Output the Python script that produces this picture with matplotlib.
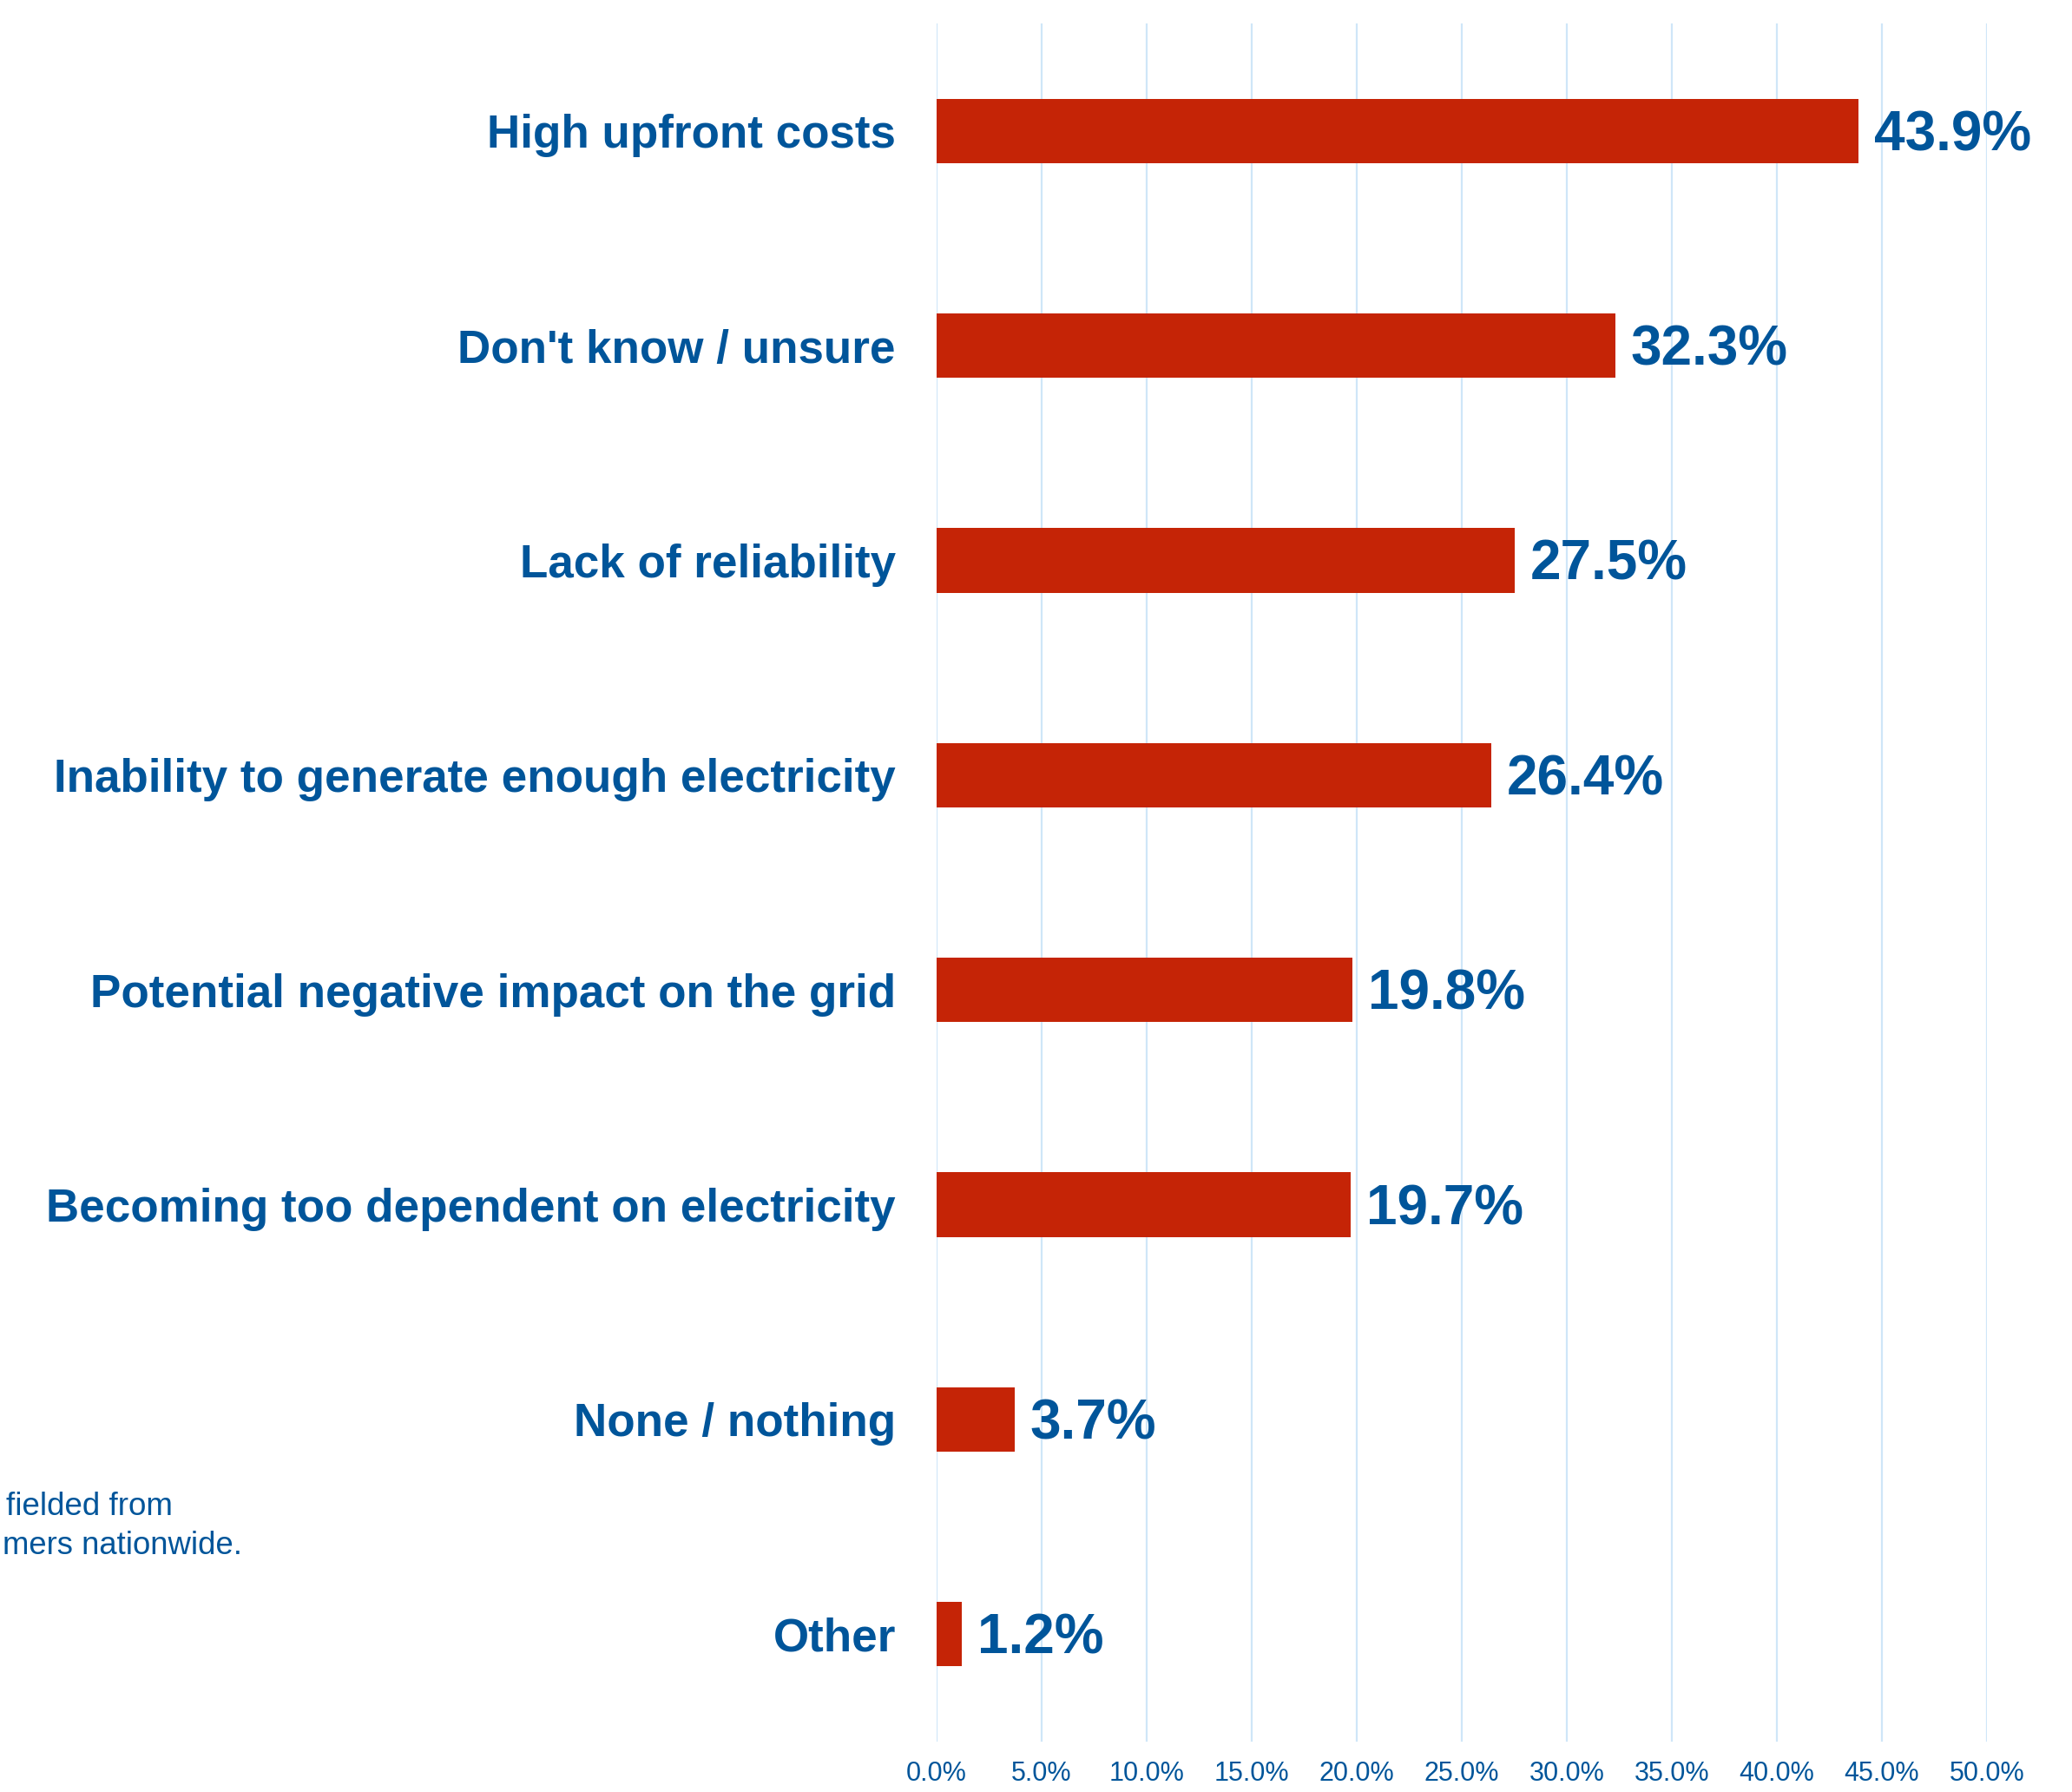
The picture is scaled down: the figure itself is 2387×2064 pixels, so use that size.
import matplotlib
matplotlib.use("Agg")
import matplotlib.pyplot as plt
from matplotlib.ticker import FuncFormatter

plt.rcParams['font.family'] = ['Liberation Sans', 'DejaVu Sans']

categories = [
    "High upfront costs",
    "Don't know / unsure",
    "Lack of reliability",
    "Inability to generate enough electricity",
    "Potential negative impact on the grid",
    "Becoming too dependent on electricity",
    "None / nothing",
    "Other",
]
values = [43.9, 32.3, 27.5, 26.4, 19.8, 19.7, 3.7, 1.2]
tick_values = [0, 5, 10, 15, 20, 25, 30, 35, 40, 45, 50]
# Footnote as visible in the reference (its start is cropped off the image)
footnote_line1 = "fielded from"
footnote_line2 = "mers nationwide."

BLUE = "#00559A"
RED = "#C52406"
GRID = "#CFE6F8"

W, H = 2387, 2064
fig = plt.figure(figsize=(W / 100, H / 100), dpi=100)
ax = fig.add_axes([1079 / W, 1 - 2006 / H, (2289 - 1079) / W, (2006 - 27) / H])

y = list(range(len(categories)))
ax.barh(y, values, height=0.3, color=RED, zorder=3)
ax.set_ylim(len(categories) - 0.5, -0.5)
ax.set_xlim(0, 50)
ax.set_xticks(tick_values)
ax.xaxis.set_major_formatter(FuncFormatter(lambda v, p: f"{v:.1f}%"))
ax.grid(axis='x', color=GRID, linewidth=1.6, zorder=0)
ax.grid(axis='y', visible=False)
for s in ax.spines.values():
    s.set_visible(False)
ax.tick_params(axis='x', length=0, pad=16, labelsize=22, labelcolor=BLUE)
ax.tick_params(axis='y', length=0, pad=34, labelsize=38.2, labelcolor=BLUE)
ax.set_yticks(y)
ax.set_yticklabels(categories, fontweight='bold')

for yi, v in zip(y, values):
    ax.annotate(f"{v:.1f}%", xy=(v, yi), xytext=(13, -4), textcoords='offset points',
                ha='left', va='center', fontsize=46, fontweight='bold', color=BLUE)

fig.text(199 / W, 1 - 1745 / H, footnote_line1, ha='right', va='baseline',
         fontsize=26.5, color=BLUE)
fig.text(3 / W, 1 - 1790 / H, footnote_line2, ha='left', va='baseline',
         fontsize=26.3, color=BLUE)

fig.savefig("out.png", dpi=100)
